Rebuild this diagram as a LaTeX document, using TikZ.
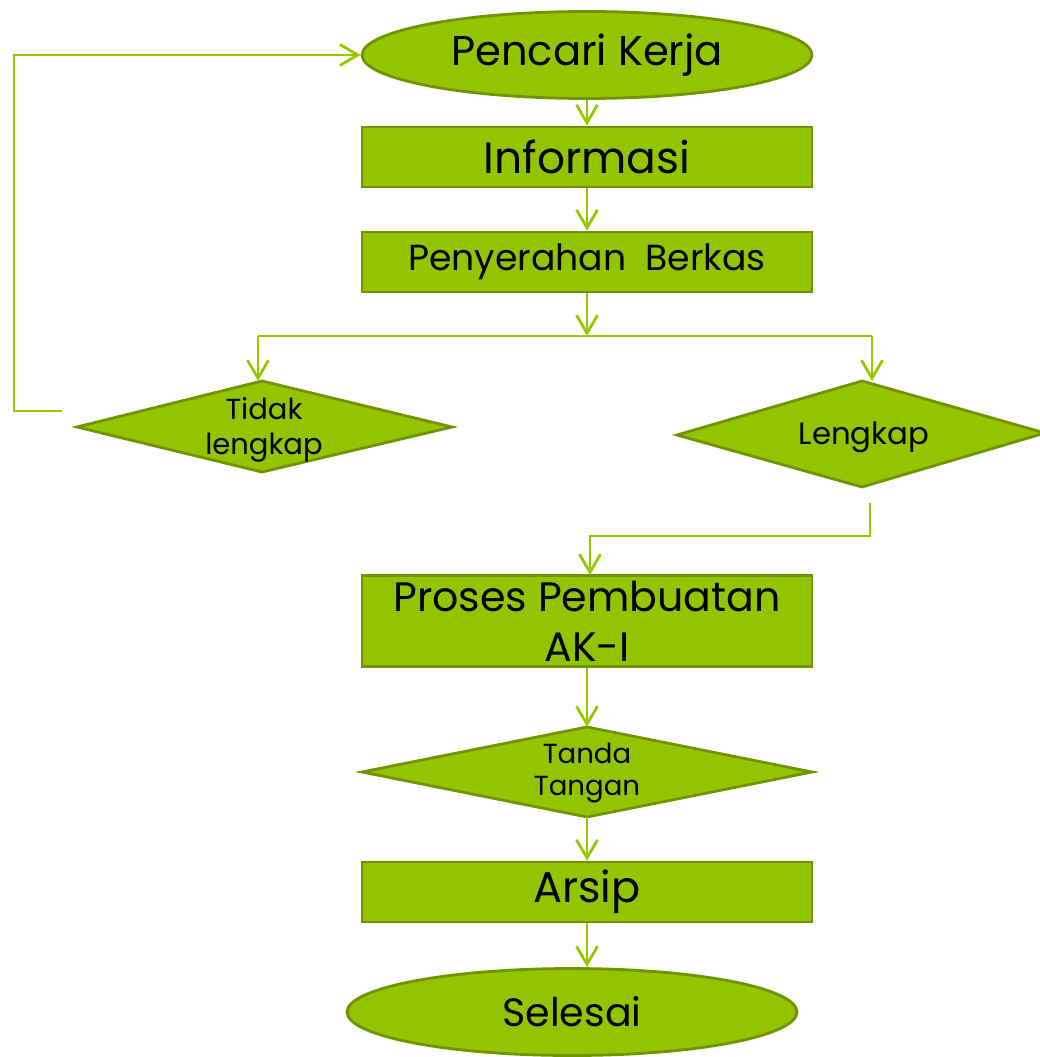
\documentclass[tikz,border=0pt]{standalone}
\usepackage{fontspec}
\setmainfont{Poppins}
\usetikzlibrary{shapes.geometric, arrows.meta, positioning}

\definecolor{boxfill}{RGB}{146,196,0}
\definecolor{boxline}{RGB}{112,148,0}
\definecolor{arrowline}{RGB}{150,200,0}

\tikzset{
  boxnode/.style={draw=boxline, fill=boxfill, line width=1.6pt, minimum width=9cm, minimum height=1.2cm, inner sep=0pt, align=center},
  endnode/.style={ellipse, draw=boxline, fill=boxfill, line width=1.6pt, minimum width=9cm, minimum height=1.74cm, inner sep=0pt},
  choiceshape/.style={draw=boxline, fill=boxfill, line width=1.6pt, line join=miter},
  choicetext/.style={inner sep=0pt, align=center},
  flow/.style={draw=arrowline, line width=1.6pt, -{Straight Barb[length=0.36cm,width=0.42cm,line width=1.6pt]}},
  flowline/.style={draw=arrowline, line width=1.6pt}
}

\begin{document}
\begin{tikzpicture}[x=0.02cm,y=-0.02cm]
\useasboundingbox (0,0) rectangle (1040,1057);
% main column
\node[endnode, font=\fontsize{23.7}{28}\selectfont] (pencari) at (587,55) {Pencari Kerja};
\node[boxnode, font=\fontsize{25}{30}\selectfont] (info) at (587,157) {Informasi};
\node[boxnode, font=\fontsize{20.6}{24}\selectfont] (berkas) at (587,262) {Penyerahan\ \ Berkas};
% decisions (drawn as shapes, text on top)
\filldraw[choiceshape] (77,427) -- (262,381) -- (452,427) -- (262,472) -- cycle;
\node[choicetext, font=\fontsize{16.5}{19.5}\selectfont] (tidak) at (264,430) {Tidak\\lengkap};
\filldraw[choiceshape] (677,435) -- (862,381) -- (1045,433) -- (862,487) -- cycle;
\node[choicetext, font=\fontsize{17.5}{21}\selectfont] (lengkap) at (864,437) {Lengkap};
\node[boxnode, minimum height=1.82cm, font=\fontsize{23.4}{28.5}\selectfont] (proses) at (587,621) {Proses Pembuatan\\AK-I};
\filldraw[choiceshape] (362,772) -- (587,727) -- (812,772) -- (587,817) -- cycle;
\node[choicetext, font=\fontsize{15.7}{18.5}\selectfont] (ttd) at (587,773) {Tanda\\Tangan};
\node[boxnode, font=\fontsize{24.5}{30}\selectfont] (arsip) at (587,892) {Arsip};
\node[endnode, font=\fontsize{22.5}{27}\selectfont] (selesai) at (572,1012) {Selesai};

% connectors
\coordinate (split) at (587,336);
\coordinate (splitL) at (258,336);
\coordinate (splitR) at (872,336);
\coordinate (tidaktop) at (258,381);
\coordinate (lengkaptop) at (872,381);
\coordinate (backA) at (62,411);
\coordinate (backB) at (14,411);
\coordinate (backC) at (14,55);
\coordinate (okA) at (870,503);
\coordinate (okB) at (870,536);
\coordinate (okC) at (590,536);
\coordinate (prosestop) at (590,575);
\coordinate (ttdtop) at (587,727);
\coordinate (ttdbot) at (587,817);

\draw[flow] (pencari) -- (info);
\draw[flow] (info) -- (berkas);
\draw[flow] (berkas) -- (split);
\draw[flowline] (splitL) -- (splitR);
\draw[flow] (splitL) -- (tidaktop);
\draw[flow] (splitR) -- (lengkaptop);
\draw[flow] (backA) -- (backB) -- (backC) -- (pencari.west);
\draw[flow] (okA) -- (okB) -- (okC) -- (prosestop);
\draw[flow] (proses) -- (ttdtop);
\draw[flow] (ttdbot) -- (arsip);
\draw[flow] (arsip) -- (selesai.north -| arsip);
\end{tikzpicture}
\end{document}
